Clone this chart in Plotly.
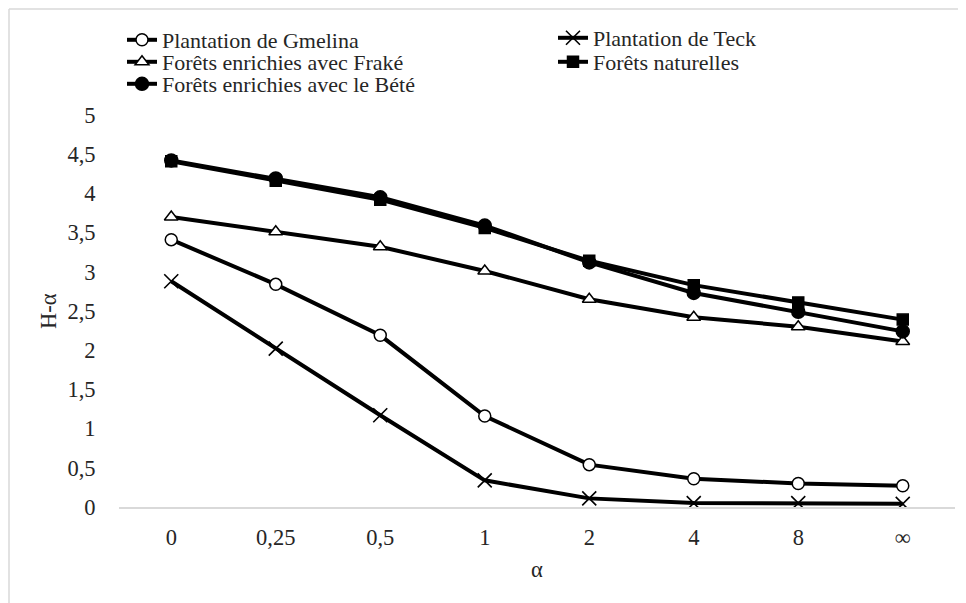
import plotly.graph_objects as go

categories = ["0", "0,25", "0,5", "1", "2", "4", "8", "∞"]
gmelina = [3.41, 2.84, 2.19, 1.16, 0.54, 0.36, 0.30, 0.27]
teck = [2.88, 2.02, 1.17, 0.34, 0.11, 0.05, 0.05, 0.04]
frake = [3.70, 3.51, 3.32, 3.01, 2.65, 2.42, 2.30, 2.11]
naturelles = [4.41, 4.16, 3.92, 3.56, 3.14, 2.83, 2.61, 2.39]
bete = [4.42, 4.19, 3.95, 3.59, 3.12, 2.73, 2.49, 2.24]

names = ["Plantation de Gmelina", "Plantation de Teck", "Forêts enrichies avec Fraké",
         "Forêts naturelles", "Forêts enrichies avec le Bété"]

FONT = "Liberation Serif, Times New Roman, serif"
FS = 22.5
LFS = 22
TXT = "#262626"
W, H = 958, 595
OFF = 8  # page offset of the figure

fig = go.Figure()

def add(y, name, symbol, size, fill, legend, lw=1.5):
    fig.add_trace(go.Scatter(
        x=categories, y=y, name=name, mode="lines+markers", legend=legend,
        line=dict(color="black", width=4),
        marker=dict(symbol=symbol, size=size, color=fill,
                    line=dict(color="black", width=lw)),
    ))

add(gmelina, names[0], "circle", 12, "white", "legend")
add(teck, names[1], "x-thin", 14, "black", "legend2", 1.6)
add(frake, names[2], "triangle-up", 12, "white", "legend3")
add(naturelles, names[3], "square", 11, "black", "legend4")
add(bete, names[4], "circle", 13, "black", "legend5")

def leg(px, py):
    return dict(x=(px - OFF) / W, xanchor="left", xref="container",
                y=1 - (py - OFF) / H, yanchor="middle", yref="container",
                font=dict(family=FONT, size=LFS, color=TXT), itemwidth=30,
                bgcolor="rgba(0,0,0,0)", borderwidth=0)

plot_l, plot_r, plot_t, plot_b = 119 - OFF, 955 - OFF, 115 - OFF, 507 - OFF
pw, ph = plot_r - plot_l, plot_b - plot_t

fig.update_layout(
    width=W, height=H,
    margin=dict(l=plot_l, r=W - plot_r, t=plot_t, b=H - plot_b, autoexpand=False),
    paper_bgcolor="white", plot_bgcolor="white",
    separators=", ",
    font=dict(family=FONT, size=FS, color=TXT),
    showlegend=True,
    legend=leg(122, 40),
    legend2=leg(553, 38),
    legend3=leg(122, 62),
    legend4=leg(553, 62),
    legend5=leg(122, 84),
    xaxis=dict(type="category", range=[-0.5, 7.5], showgrid=False, zeroline=False,
               showline=True, linecolor="#d9d9d9", linewidth=1.5, automargin=False,
               ticks="outside", ticklen=9, tickcolor="rgba(0,0,0,0)",
               tickfont=dict(family=FONT, size=FS, color=TXT),
               title=dict(text="α", font=dict(family=FONT, size=FS, color=TXT), standoff=12)),
    yaxis=dict(range=[0, 5], dtick=0.5, showgrid=False, zeroline=False, showline=False,
               automargin=False,
               ticks="outside", ticklen=18, tickcolor="rgba(0,0,0,0)",
               tickfont=dict(family=FONT, size=FS, color=TXT)),
    annotations=[dict(text="H-α", textangle=-90, showarrow=False,
                      xref="paper", yref="paper",
                      x=(48 - OFF - plot_l) / pw, y=0.5, xanchor="center", yanchor="middle",
                      font=dict(family=FONT, size=FS, color=TXT))],
)

# Outer border (top and left edges visible in reference)
top_y = (H - 1 - (H - plot_b)) / ph
left_x = -(plot_l - 1) / pw
fig.add_shape(type="line", xref="paper", yref="paper", x0=left_x, x1=(W - plot_l) / pw,
              y0=top_y, y1=top_y, line=dict(color="#d9d9d9", width=1.5))
fig.add_shape(type="line", xref="paper", yref="paper", x0=left_x, x1=left_x,
              y0=top_y, y1=-(H - plot_b) / ph, line=dict(color="#d9d9d9", width=1.5))

fig.write_html("out.html")
